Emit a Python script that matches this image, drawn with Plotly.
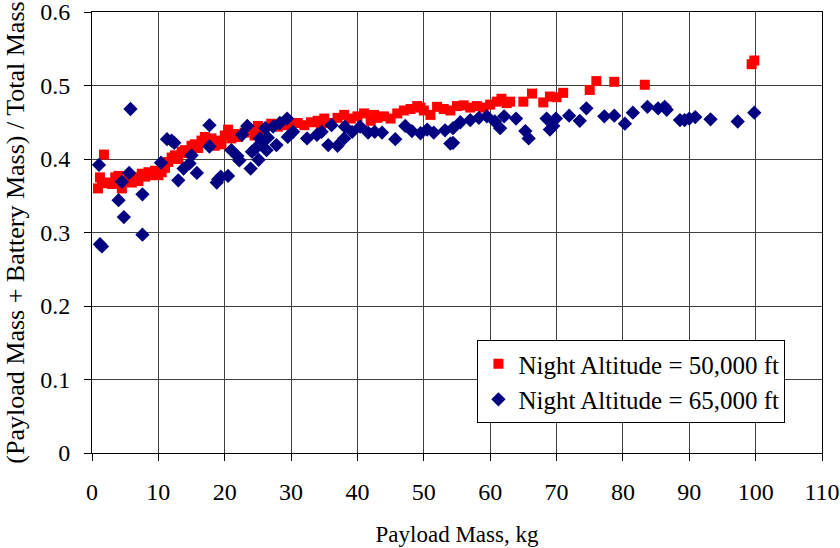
import plotly.graph_objects as go

# Night Altitude = 50,000 ft
red_x = [0.9, 1.2, 1.5, 1.8, 2.5, 3.0, 3.5, 4.0, 4.5, 5.0, 5.5, 6.0, 6.5, 7.0, 7.5, 8.0, 8.5, 9.0,
         9.5, 10.0, 10.5, 11.0, 11.5, 12.0, 12.5, 13.0, 13.5, 14.0, 14.5, 15.0, 15.5, 16.0, 16.5,
         17.0, 17.5, 18.0, 18.5, 19.0, 19.5, 20.0, 20.5, 21.0, 21.5, 22.0, 23.0, 24.0, 24.5, 25.0,
         25.5, 26.0, 27.0, 28.0, 29.0, 30.0, 31.0, 32.0, 33.0, 34.0, 34.5, 35.0, 36.0, 37.0, 38.0,
         39.0, 40.0, 41.0, 42.0, 42.5, 43.0, 44.0, 45.0, 46.0, 47.0, 48.0, 49.0, 49.5, 50.0, 51.0,
         52.0, 53.0, 54.0, 55.0, 56.0, 57.0, 58.0, 59.0, 60.0, 61.0, 61.7, 62.5, 63.0, 65.0, 66.3,
         68.0, 69.0, 70.0, 71.0, 75.0, 76.0, 78.7, 83.3, 99.4, 99.8]
red_y = [0.360, 0.375, 0.367, 0.406, 0.368, 0.366, 0.375, 0.377, 0.360, 0.370, 0.372, 0.368, 0.375,
         0.370, 0.380, 0.376, 0.382, 0.378, 0.384, 0.378, 0.382, 0.388, 0.396, 0.402, 0.405, 0.400,
         0.410, 0.412, 0.408, 0.418, 0.420, 0.415, 0.425, 0.430, 0.422, 0.428, 0.418, 0.425, 0.420,
         0.432, 0.440, 0.428, 0.434, 0.430, 0.436, 0.440, 0.432, 0.445, 0.438, 0.442, 0.448, 0.444,
         0.446, 0.447, 0.449, 0.446, 0.450, 0.452, 0.447, 0.455, 0.449, 0.456, 0.460, 0.455, 0.458,
         0.462, 0.452, 0.460, 0.456, 0.458, 0.455, 0.462, 0.466, 0.468, 0.472, 0.470, 0.466, 0.460,
         0.471, 0.468, 0.466, 0.472, 0.473, 0.470, 0.472, 0.470, 0.474, 0.478, 0.482, 0.476, 0.478,
         0.478, 0.489, 0.477, 0.485, 0.484, 0.490, 0.494, 0.506, 0.505, 0.501, 0.529, 0.534]

# Night Altitude = 65,000 ft
blue_x = [1.05, 1.2, 1.5, 4.0, 4.8, 4.5, 5.6, 5.8, 7.6, 7.6, 10.4, 11.3, 12.0, 12.4, 13.0, 13.8,
          14.7, 15.0, 15.8, 17.7, 17.7, 18.8, 19.0, 19.4, 20.5, 21.0, 21.9, 22.2, 22.6, 23.4, 23.9,
          24.1, 24.6, 25.1, 25.3, 25.6, 26.1, 26.3, 26.5, 27.3, 27.8, 28.3, 29.4, 29.5, 30.3, 32.4,
          33.9, 34.6, 35.6, 36.1, 37.0, 38.0, 38.1, 39.2, 40.4, 41.6, 42.6, 43.7, 45.7, 47.2, 48.2,
          49.5, 50.5, 51.5, 53.2, 54.0, 54.4, 54.4, 55.5, 57.0, 58.3, 59.5, 60.7, 61.5, 62.1, 63.9,
          65.3, 65.8, 68.5, 69.0, 69.5, 69.9, 71.9, 73.5, 74.5, 77.2, 78.7, 80.3, 81.5, 83.7, 85.3,
          86.3, 86.6, 88.6, 89.3, 90.0, 90.9, 93.2, 97.3, 99.8]
blue_y = [0.392, 0.284, 0.281, 0.344, 0.321, 0.369, 0.381, 0.468, 0.297, 0.352, 0.395, 0.427, 0.425,
          0.422, 0.371, 0.387, 0.394, 0.405, 0.381, 0.446, 0.417, 0.368, 0.372, 0.376, 0.377, 0.412,
          0.404, 0.398, 0.433, 0.445, 0.387, 0.410, 0.414, 0.399, 0.428, 0.424, 0.442, 0.412, 0.429,
          0.444, 0.419, 0.449, 0.455, 0.430, 0.437, 0.428, 0.433, 0.437, 0.419, 0.446, 0.418, 0.428,
          0.444, 0.437, 0.444, 0.436, 0.437, 0.436, 0.427, 0.445, 0.438, 0.435, 0.440, 0.436, 0.439,
          0.421, 0.422, 0.442, 0.450, 0.453, 0.456, 0.458, 0.451, 0.442, 0.458, 0.455, 0.438, 0.428,
          0.455, 0.440, 0.445, 0.455, 0.459, 0.452, 0.469, 0.458, 0.459, 0.448, 0.463, 0.471, 0.469,
          0.471, 0.467, 0.453, 0.453, 0.455, 0.457, 0.454, 0.451, 0.463]

x_ticks = list(range(0, 111, 10))
y_ticks = [0, 0.1, 0.2, 0.3, 0.4, 0.5, 0.6]
y_tick_text = ["0", "0.1", "0.2", "0.3", "0.4", "0.5", "0.6"]

font_family = "Liberation Serif, Times New Roman, serif"

fig = go.Figure()
fig.add_trace(go.Scatter(
    x=red_x, y=red_y, mode="markers", name="Night Altitude = 50,000 ft",
    marker=dict(symbol="square", size=10, color="#FF0000", line=dict(width=0)),
))
fig.add_trace(go.Scatter(
    x=blue_x, y=blue_y, mode="markers", name="Night Altitude = 65,000 ft",
    marker=dict(symbol="diamond", size=11, color="#000080", line=dict(width=0)),
))

axis_common = dict(
    showgrid=True, gridcolor="#404040", gridwidth=1,
    showline=True, linecolor="black", linewidth=1, mirror=True,
    ticks="outside", ticklen=7, tickcolor="black",
    zeroline=False, automargin=False, ticklabeloverflow="allow",
    tickfont=dict(family=font_family, size=24, color="black"),
)

fig.update_xaxes(
    range=[0, 110], tickvals=x_ticks, ticktext=[str(v) for v in x_ticks],
    ticklabelstandoff=10,
    title=dict(text="Payload Mass, kg", font=dict(family=font_family, size=23, color="black"),
               standoff=22),
    **axis_common,
)
fig.update_yaxes(
    range=[0, 0.6], tickvals=y_ticks, ticktext=y_tick_text,
    ticklabelstandoff=9,
    title=dict(text="(Payload Mass + Battery Mass) / Total Mass",
               font=dict(family=font_family, size=26, color="black"), standoff=8),
    **axis_common,
)

fig.update_layout(
    width=840, height=548,
    margin=dict(l=92, r=18, t=12, b=95),
    paper_bgcolor="white", plot_bgcolor="white",
    font=dict(family=font_family, color="black"),
    legend=dict(
        x=0.528, y=0.256, xanchor="left", yanchor="top",
        bgcolor="white", bordercolor="black", borderwidth=1,
        font=dict(family=font_family, size=25, color="black"),
        itemwidth=30, tracegroupgap=0,
    ),
    showlegend=True,
)

fig.write_html("out.html")
